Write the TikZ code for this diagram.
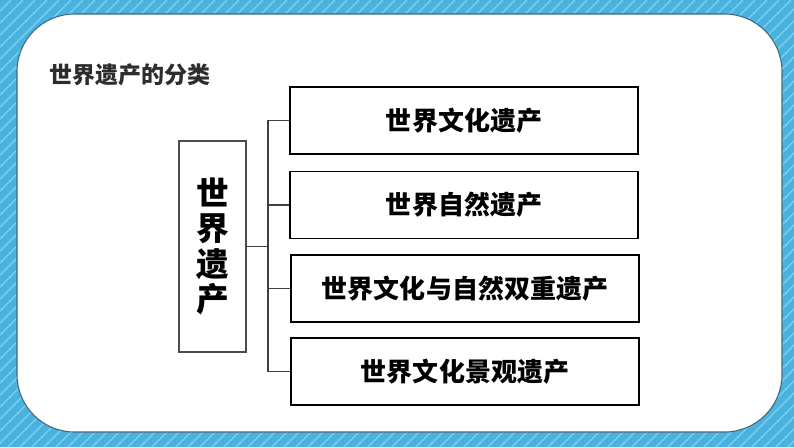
\documentclass[tikz,border=0pt]{standalone}
\usepackage{fontspec}
\usepackage{tikz}
\usetikzlibrary{positioning, calc}
\newfontfamily\cjk{Noto Sans CJK SC}
\definecolor{SkyBlue}{RGB}{74,178,223}
\definecolor{SkyStripe}{RGB}{132,206,238}
\definecolor{PanelEdge}{RGB}{62,104,124}
\definecolor{TitleGray}{RGB}{45,45,45}

\begin{document}
\begin{tikzpicture}[x=0.02cm,y=-0.02cm,
        kind/.style={draw=black,line width=0.6pt,fill=white,
                   font=\cjk\bfseries\fontsize{14.8}{16}\selectfont,
                   minimum width=348*0.02cm,minimum height=67*0.02cm},
        link/.style={draw=black!75,line width=0.6pt},
        stripe/.style={SkyStripe,line width=0.7pt}
      ]
        % background and panel
        \fill[SkyBlue] (0,0) rectangle (794,447);
        \useasboundingbox (0,0) rectangle (794,447);
        \begin{scope}
          \clip (0,0) rectangle (794,447);
          \foreach \i in {-460,-448,...,800}
            \draw[stripe] (\i,447) -- ++(447,-447);
        \end{scope}
        \draw[PanelEdge,fill=white,line width=0.6pt,rounded corners=1.15cm]
          (17,14) rectangle (782,432);
        \node[font=\cjk\bfseries\fontsize{13.1}{15}\selectfont,TitleGray] (title) at (130,75) {世界遗产的分类};
        % root box
        \node[draw=black!70,line width=0.6pt,minimum width=67*0.02cm,minimum height=211*0.02cm,
              align=center,font=\cjk\bfseries\fontsize{18.6}{20}\selectfont] (root) at (212.5,246.5)
              {世\\界\\遗\\产};
        % categories
        \node[kind] (c1) at (464,120.5) {世界文化遗产};
        \node[kind] (c2) at (464,205) {世界自然遗产};
        \node[kind] (c3) at (465,288.5) {世界文化与自然双重遗产};
        \node[kind] (c4) at (465,371.5) {世界文化景观遗产};
        \coordinate (fork) at (268,246.5);
        \draw[link] (root.east) -- (fork);
        \draw[link] (c1.west) -- (c1.west -| fork) -- (c4.west -| fork) -- (c4.west);
        \draw[link] (c2.west) -- (c2.west -| fork);
        \draw[link] (c3.west) -- (c3.west -| fork);
      \end{tikzpicture}
\end{document}
